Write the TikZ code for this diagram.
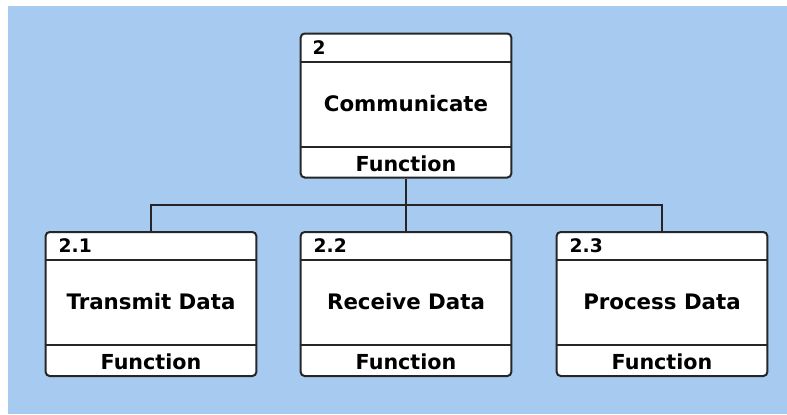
\documentclass[tikz,border=0pt]{standalone}
\usepackage{fontspec}
\setmainfont{DejaVu Sans}
\usepackage{tikz}
\usetikzlibrary{positioning,calc}
\definecolor{skyblue}{RGB}{166,202,240}

\begin{document}
\begin{tikzpicture}[x=0.75pt,y=-0.75pt,line width=1.5pt,
	funcbox/.style={rectangle,draw=black!85,fill=white,rounded corners=3pt,minimum width=158pt,minimum height=108pt,inner sep=0pt},
	numtext/.style={font=\bfseries\fontsize{14}{16}\selectfont,anchor=west,inner sep=0pt},
	titletext/.style={font=\bfseries\fontsize{16}{19}\selectfont,inner sep=0pt},
	roletext/.style={font=\bfseries\fontsize{15.5}{18}\selectfont,inner sep=0pt}]
	\fill[white] (0,0) rectangle (787,414);
	\fill[skyblue] (8,6) rectangle (787,414);
	\useasboundingbox (0,0) rectangle (787,414);
	
	\node[funcbox] (comm) at (406,105.5) {};
	\node[funcbox] (transmit) at (151,304) {};
	\node[funcbox] (receive) at (406,304) {};
	\node[funcbox] (process) at (662,304) {};
	
	\foreach \b in {comm,transmit,receive,process} {
		\draw[black!85] ($(\b.north west)+(0,29)$) -- ($(\b.north east)+(0,29)$);
		\draw[black!85] ($(\b.south west)+(0,-32)$) -- ($(\b.south east)+(0,-32)$);
		\node[roletext] (\b role) at ($(\b.south)+(0,-15)$) {Function};
	}
	
	\node[numtext] (commnum) at ($(comm.north west)+(12,15)$) {2};
	\node[numtext] (transmitnum) at ($(transmit.north west)+(13,15)$) {2.1};
	\node[numtext] (receivenum) at ($(receive.north west)+(13,15)$) {2.2};
	\node[numtext] (processnum) at ($(process.north west)+(13,15)$) {2.3};
	
	\node[titletext] (commtitle) at ($(comm.center)+(0,-2)$) {Communicate};
	\node[titletext] (transmittitle) at ($(transmit.center)+(0,-2)$) {Transmit Data};
	\node[titletext] (receivetitle) at ($(receive.center)+(0,-2)$) {Receive Data};
	\node[titletext] (processtitle) at ($(process.center)+(0,-2)$) {Process Data};
	
	\coordinate (bus) at (406,205);
	\draw[black!85] (comm.south) -- (receive.north);
	\draw[black!85] (transmit.north) -- (transmit.north |- bus) -| (process.north);
	
\end{tikzpicture}
\end{document}
